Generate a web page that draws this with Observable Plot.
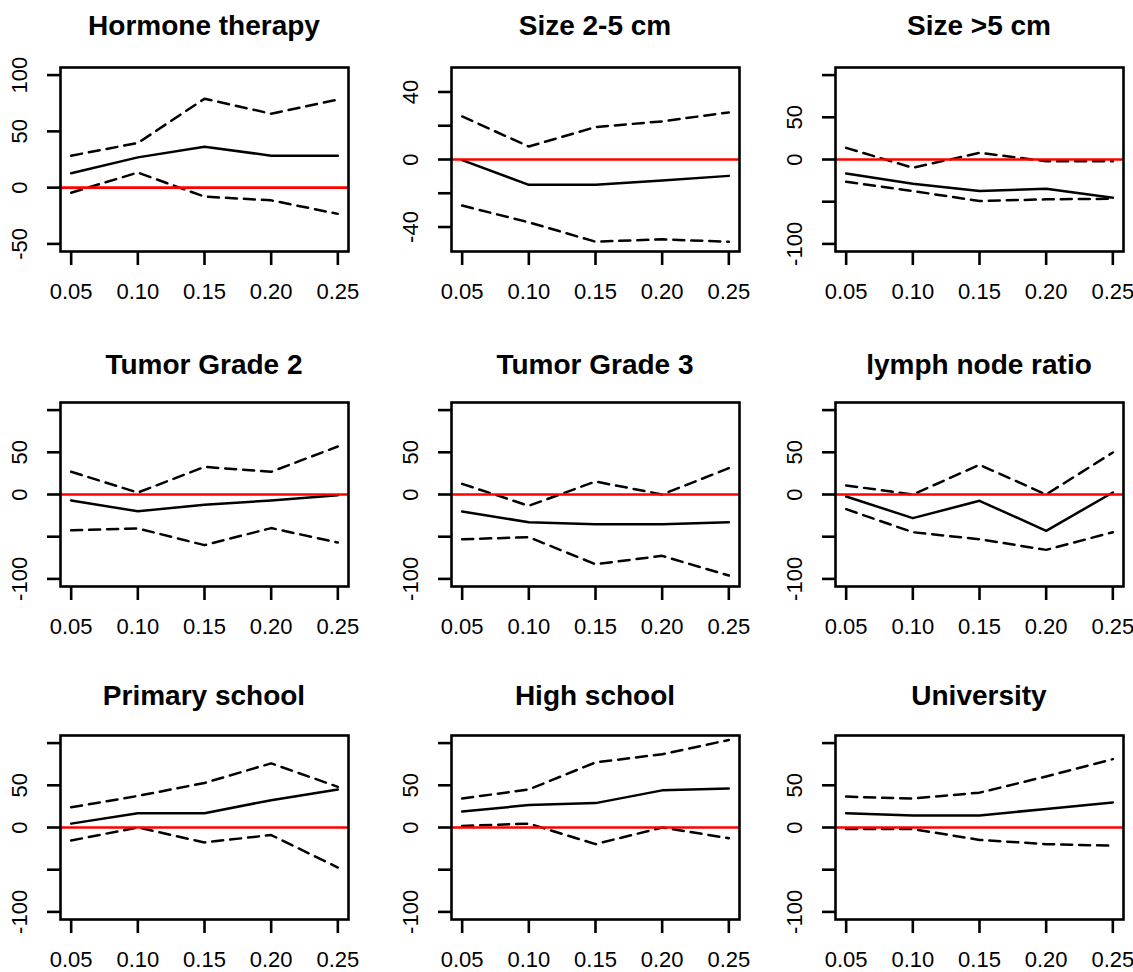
<!DOCTYPE html>
<html><head><meta charset="utf-8">
<script src="https://cdn.jsdelivr.net/npm/d3@7"></script>
<script src="https://cdn.jsdelivr.net/npm/@observablehq/plot@0.6"></script>
<style>
body{margin:0;background:#fff;}
#chart{position:relative;width:1133px;height:972px;font-family:"Liberation Sans",Arial,sans-serif;color:#000;overflow:hidden;}
.panel{position:absolute;}
.title{position:absolute;font-weight:bold;font-size:28px;line-height:28px;text-align:center;white-space:nowrap;}
</style></head><body><div id="chart"></div>
<script>
// ---- data ----
const xValues = [0.05, 0.10, 0.15, 0.20, 0.25];
const titles = ["Hormone therapy", "Size 2-5 cm", "Size >5 cm",
                "Tumor Grade 2", "Tumor Grade 3", "lymph node ratio",
                "Primary school", "High school", "University"];
const upper = [
  [28.4, 39.7, 79, 65.7, 78.2],
  [25.5, 7.7, 19.2, 22.6, 27.9],
  [13.8, -9.8, 7.9, -2, -2],
  [26.9, 2.3, 32.7, 26.9, 56.9],
  [12.6, -13.4, 15.4, 0, 31.2],
  [10.7, 0, 35.2, 0, 49.8],
  [23.9, 37.4, 52.8, 76, 48.2],
  [34.3, 45.1, 77.1, 86.8, 103.7],
  [36.6, 34.3, 41.3, 60.5, 81]
];
const estimate = [
  [12.8, 26.9, 36.4, 28.4, 28.4],
  [-0.4, -15, -15, -12.5, -9.7],
  [-16.5, -28.7, -37.4, -34.6, -45.3],
  [-7, -19.9, -12.1, -7, -1],
  [-20.2, -32.8, -35.2, -35.2, -32.8],
  [-2.4, -28, -7.5, -43, 2.4],
  [4.6, 17, 17, 32.4, 45.1],
  [18.9, 26.6, 28.9, 44, 46.3],
  [17, 14.3, 14.3, 22, 29.7]
];
const lower = [
  [-4.5, 13.4, -8, -11.3, -23.3],
  [-27.3, -37.2, -48.7, -47.3, -48.7],
  [-26.4, -37.4, -49.2, -47.2, -46.5],
  [-42.5, -40.2, -60, -39.8, -56.9],
  [-53, -50.6, -82.6, -72.7, -96],
  [-17.4, -44.7, -53, -65.6, -44.7],
  [-15.4, 0, -17.7, -8.9, -47.4],
  [1.9, 4.6, -19.7, 0, -12.7],
  [-1.9, -1.9, -14.7, -19.7, -21.6]
];
const ylims = [[-50, 100], [-50, 50], [-100, 100], [-100, 100], [-100, 100],
               [-100, 100], [-100, 100], [-100, 100], [-100, 100]];
const yTicks = [[-50, 0, 50, 100], [-40, -20, 0, 20, 40], [-100, -50, 0, 50, 100],
                [-100, -50, 0, 50, 100], [-100, -50, 0, 50, 100], [-100, -50, 0, 50, 100],
                [-100, -50, 0, 50, 100], [-100, -50, 0, 50, 100], [-100, -50, 0, 50, 100]];
const yLabels = [[-50, 0, 50, 100], [-40, 0, 40], [-100, 0, 50],
                 [-100, 0, 50], [-100, 0, 50], [-100, 0, 50],
                 [-100, 0, 50], [-100, 0, 50], [-100, 0, 50]];

// ---- layout ----
const boxLeft = [60, 451, 835];
const boxTop = [67, 402, 735];
const titleBaseline = [36, 375, 706];
const boxW = 288, boxH = 184;
const mL = 60, mR = 10, mT = 10, mB = 60;
const font = "'Liberation Sans', Arial, sans-serif";
const chart = document.getElementById("chart");

titles.forEach((title, i) => {
  const r = Math.floor(i / 3), c = i % 3;
  const [lo, hi] = ylims[i];
  const pad = (hi - lo) * 0.045;
  const xpad = (xValues[4] - xValues[0]) * 0.04;
  const rows = xValues.map((x, j) => ({x, upper: upper[i][j], est: estimate[i][j], lower: lower[i][j]}));
  const dashed = {x: "x", stroke: "#000", strokeWidth: 2.5, strokeDasharray: "11,7"};
  const svg = Plot.plot({
    width: boxW + mL + mR, height: boxH + mT + mB,
    marginLeft: mL, marginRight: mR, marginTop: mT, marginBottom: mB,
    style: {fontFamily: font, fontSize: "22px", color: "#000", background: "transparent", overflow: "visible"},
    x: {domain: [xValues[0] - xpad, xValues[4] + xpad]},
    y: {domain: [lo - pad, hi + pad]},
    marks: [
      Plot.line(rows, {...dashed, y: "upper"}),
      Plot.line(rows, {x: "x", y: "est", stroke: "#000", strokeWidth: 2.5}),
      Plot.line(rows, {...dashed, y: "lower"}),
      Plot.ruleY([0], {stroke: "#ff0000", strokeWidth: 2.6}),
      Plot.frame({stroke: "#000", strokeWidth: 2.6}),
      Plot.axisX(xValues, {tickSize: 14, tickPadding: 18, strokeWidth: 2.6, fontSize: 22,
                           tickFormat: d => d.toFixed(2), label: null}),
      Plot.axisY(yTicks[i], {tickSize: 13, strokeWidth: 2.6, tickFormat: () => null, label: null}),
      Plot.text(yLabels[i], {y: d => d, text: d => String(d), frameAnchor: "left", dx: -41,
                             rotate: -90, textAnchor: "middle", lineAnchor: "middle",
                             fontSize: 22, fill: "#000"})
    ]
  });
  const div = document.createElement("div");
  div.className = "panel";
  div.style.left = (boxLeft[c] - mL) + "px";
  div.style.top = (boxTop[r] - mT) + "px";
  div.appendChild(svg);
  chart.appendChild(div);

  const t = document.createElement("div");
  t.className = "title";
  t.textContent = title;
  t.style.left = boxLeft[c] + "px";
  t.style.width = boxW + "px";
  t.style.top = (titleBaseline[r] - 24) + "px";
  chart.appendChild(t);
});
</script>
</body></html>
